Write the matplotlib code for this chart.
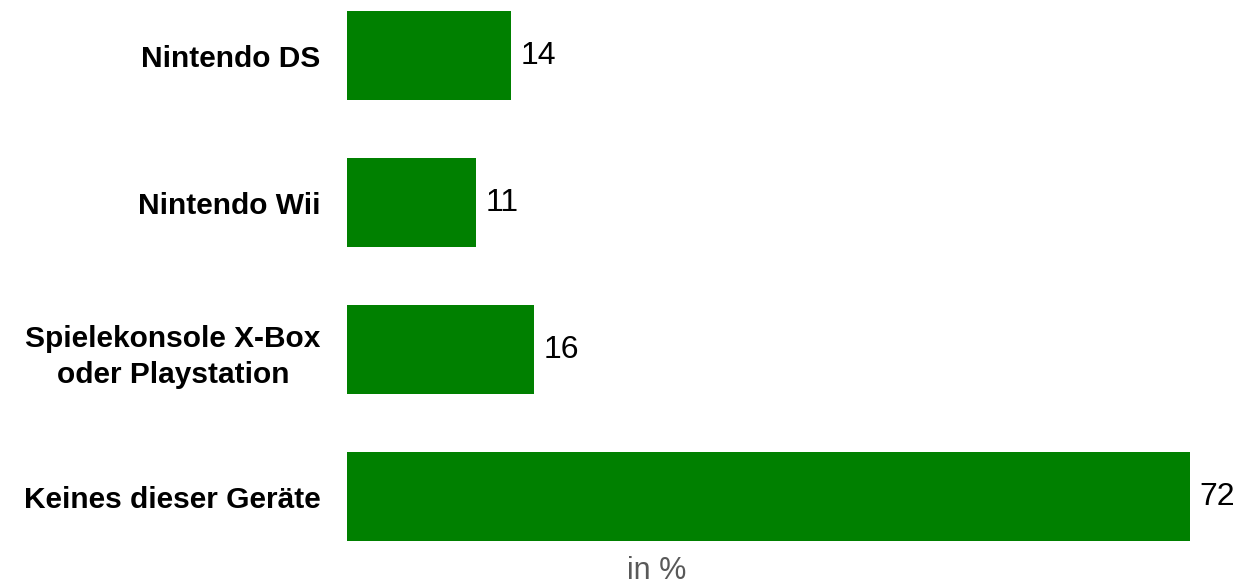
import matplotlib
matplotlib.use("Agg")
from matplotlib import pyplot as plt

plt.rcParams['font.family'] = ['Liberation Sans', 'DejaVu Sans']

# Daten
kategorien = ['Nintendo DS', 'Nintendo Wii', 'Spielekonsole X-Box\noder Playstation', 'Keines dieser Geräte']
werte = [14, 11, 16, 72]
gruen = '#008000'

fig = plt.figure(figsize=(12.4, 5.85), dpi=100)
ax = fig.add_axes([347 / 1240, 0, (1240 - 347) / 1240, 1])

pos = list(range(len(kategorien)))
bars = ax.barh(pos, werte, height=0.61, color=gruen)

# Skala: 72 -> x=1190 px
ax.set_xlim(0, 893 / 11.71)
ax.set_ylim(3.602, -0.378)

ax.set_yticks(pos)
ax.set_yticklabels(kategorien, fontsize=21.5, fontweight='bold')
for lab in ax.get_yticklabels():
    lab.set_multialignment('center')
    lab.set_linespacing(1.37)
ax.tick_params(axis='y', length=0, pad=19)
ax.set_xticks([])
for s in ax.spines.values():
    s.set_visible(False)

ax.bar_label(bars, labels=[str(w) for w in werte], padding=7, fontsize=23)

fig.text(657 / 1240, 1 - 571 / 585, 'in %', ha='center', va='center', fontsize=22, color='#595959')

fig.savefig('out.png', dpi=100)
